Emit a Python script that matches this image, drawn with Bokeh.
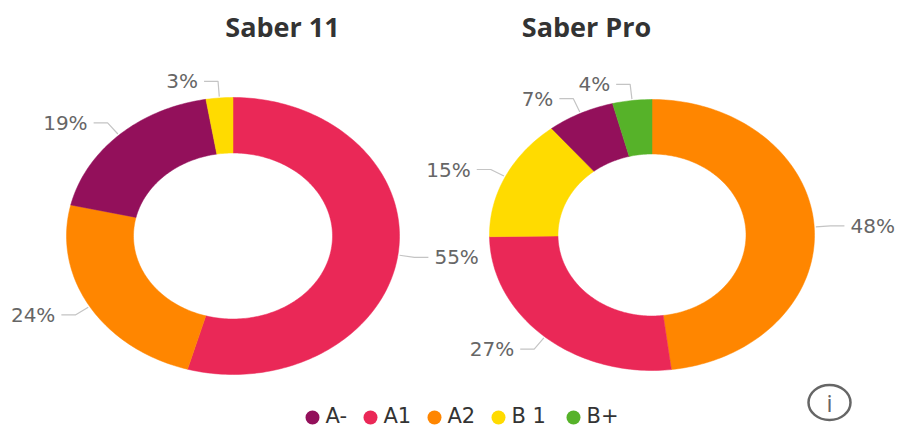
import math
from bokeh.plotting import figure
from bokeh.models import Range1d
from bokeh.core.properties import value
from bokeh.embed import file_html
from bokeh.resources import INLINE

# ---- data (percent share, clockwise from 12 o'clock)
saber11_names = ["A1", "A2", "A-", "B 1"]
saber11_values = [54.4, 24.2, 18.8, 2.6]
saber11_labels = ["55%", "24%", "19%", "3%"]
saberpro_names = ["A2", "A1", "B 1", "A-", "B+"]
saberpro_values = [48.1, 26.7, 14.6, 6.7, 3.9]
saberpro_labels = ["48%", "27%", "15%", "7%", "4%"]
legend_names = ["A-", "A1", "A2", "B 1", "B+"]
titles = ["Saber 11", "Saber Pro"]

COLORS = {"A-": "#93105B", "A1": "#EA2857", "A2": "#FF8600", "B 1": "#FFDB00", "B+": "#56B229"}
GREY = "#666666"
LABEL_FONT = "DejaVu Sans"

# layout, in page pixels
W, H = 897, 428
p = figure(width=W, height=H, x_range=Range1d(0, W), y_range=Range1d(H, 0),
           toolbar_location=None, output_backend="svg", min_border=0,
           outline_line_color=None, border_fill_color="white", background_fill_color="white")
p.axis.visible = False
p.grid.visible = False


def donut(names, values, labels, cx, cy, rx, ry, irx, iry):
    total = sum(values)
    start = 0.0
    xs, ys, cols = [], [], []
    for name, val, lab in zip(names, values, labels):
        stop = start + val / total * 2 * math.pi
        n = max(8, int(val * 3))
        angs = [start + (stop - start) * i / n for i in range(n + 1)]
        xs.append([cx + rx * math.sin(a) for a in angs] + [cx + irx * math.sin(a) for a in reversed(angs)])
        ys.append([cy - ry * math.cos(a) for a in angs] + [cy - iry * math.cos(a) for a in reversed(angs)])
        cols.append(COLORS[name])
        mid = (start + stop) / 2
        s, c = math.sin(mid), math.cos(mid)
        side = 1 if s >= 0 else -1
        ly = cy - ry * 1.12 * c
        ex = cx + rx * 1.1 * s
        p.line([cx + rx * 1.01 * s, ex, ex + side * 14],
               [cy - ry * 1.01 * c, ly, ly], line_color="#c4c4c4", line_width=1.2)
        p.text([ex + side * 20], [ly], text=[lab], text_font=value(LABEL_FONT), text_font_size="20px",
               text_color=GREY, text_baseline="middle", text_align="left" if side > 0 else "right")
        start = stop
    p.patches(xs, ys, fill_color=cols, line_color=cols, line_width=0.5)


donut(saber11_names, saber11_values, saber11_labels, 232.5, 235.5, 166.5, 138.5, 99.5, 83)
donut(saberpro_names, saberpro_values, saberpro_labels, 651.5, 234.5, 162.5, 135.5, 94, 81)

p.text([282, 586], [26, 26], text=titles, text_font=value("Open Sans"), text_font_size="27px",
       text_font_style="bold", text_color="#333333", text_align="center", text_baseline="middle")

# legend
dot_x = [312, 370, 434, 498, 573]
p.scatter(dot_x, [417] * 5, size=14, marker="circle", line_width=0, color=[COLORS[n] for n in legend_names])
p.text([x + 13 for x in dot_x], [415.5] * 5, text=legend_names, text_font=value("DejaVu Sans"),
       text_font_size="21px", text_color="#333333", text_baseline="middle")

# info icon (stretched like the rest of the picture)
p.ellipse([829], [402], width=42, height=35, fill_color=None, line_color="#666666", line_width=2.5)
p.text([829], [402], text=["i"], text_font=value("Open Sans"), text_font_size="24px",
       text_color="#666666", text_align="center", text_baseline="middle")

open("out.html", "w").write(file_html(p, INLINE))
